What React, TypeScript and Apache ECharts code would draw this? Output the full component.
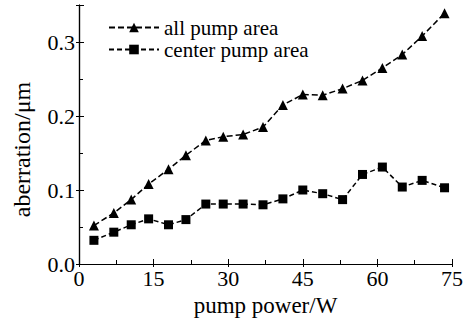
import React, { useEffect, useRef } from "react";
import * as echarts from "echarts";

const power = [3, 7, 10.5, 14, 18, 21.5, 25.5, 29, 33, 37, 41, 45, 49, 53, 57, 61, 65, 69, 73.5];
const allPump = [0.052, 0.069, 0.087, 0.108, 0.128, 0.147, 0.167, 0.172, 0.175, 0.185, 0.215, 0.229, 0.228, 0.237, 0.248, 0.265, 0.283, 0.308, 0.339];
const centerPump = [0.032, 0.043, 0.053, 0.061, 0.053, 0.06, 0.081, 0.081, 0.081, 0.08, 0.088, 0.1, 0.095, 0.087, 0.121, 0.131, 0.104, 0.113, 0.103];
const seriesNames = ["all pump area", "center pump area"];

const FONT = "Liberation Serif";

export default function App() {
  const ref = useRef<HTMLDivElement>(null);
  useEffect(() => {
    if (!ref.current) return;
    const chart = echarts.init(ref.current, undefined, { renderer: "svg" });
    const tickCommon = {
      axisLine: { show: true, lineStyle: { color: "#000", width: 1.2 } },
      axisTick: { show: true, inside: true, length: 5, lineStyle: { color: "#000", width: 1 } },
      minorTick: { show: true, splitNumber: 2, length: 4, lineStyle: { color: "#000", width: 1 } },
      splitLine: { show: false },
      minorSplitLine: { show: false },
    };
    chart.setOption({
      animation: false,
      backgroundColor: "#fff",
      textStyle: { fontFamily: FONT, color: "#000" },
      grid: {
        left: 79,
        right: 14,
        top: 5,
        bottom: 53,
      },
      legend: {
        orient: "vertical",
        left: 108,
        top: 17,
        padding: 0,
        itemWidth: 50,
        itemHeight: 12,
        itemGap: 1,
        data: seriesNames,
        textStyle: { fontFamily: FONT, fontSize: 21, color: "#000", lineHeight: 21 },
      },
      xAxis: [
        {
          type: "value",
          min: 0,
          max: 75,
          interval: 15,
          name: "pump power/W",
          nameLocation: "middle",
          nameGap: 30,
          nameTextStyle: { fontFamily: FONT, fontSize: 23, color: "#000" },
          axisLabel: { fontFamily: FONT, fontSize: 22, color: "#000", margin: 3 },
          ...tickCommon,
        },
        {
          type: "value",
          position: "top",
          min: 0,
          max: 75,
          interval: 15,
          axisLabel: { show: false },
          ...tickCommon,
          axisTick: { show: true, inside: true, length: 3, lineStyle: { color: "#000", width: 1 } },
          minorTick: { show: false },
        },
      ],
      yAxis: [
        {
          type: "value",
          min: 0,
          max: 0.35,
          interval: 0.1,
          name: "aberration/μm",
          nameLocation: "middle",
          nameGap: 45,
          nameTextStyle: { fontFamily: FONT, fontSize: 24, color: "#000", padding: [0, 30, 0, 0] },
          axisLabel: {
            fontFamily: FONT,
            fontSize: 22,
            color: "#000",
            margin: 4,
            showMaxLabel: false,
            formatter: (v: number) => v.toFixed(1),
          },
          ...tickCommon,
        },
        {
          type: "value",
          position: "right",
          min: 0,
          max: 0.35,
          interval: 0.1,
          axisLabel: { show: false },
          ...tickCommon,
          axisTick: { show: true, inside: true, length: 3, lineStyle: { color: "#000", width: 1 } },
          minorTick: { show: false },
        },
      ],
      series: [
        {
          name: seriesNames[0],
          type: "line",
          data: power.map((p, i) => [p, allPump[i]]),
          symbol: "triangle",
          symbolSize: 10,
          itemStyle: { color: "#000" },
          lineStyle: { color: "#000", width: 1.5, type: [6, 3] },
        },
        {
          name: seriesNames[1],
          type: "line",
          data: power.map((p, i) => [p, centerPump[i]]),
          symbol: "rect",
          symbolSize: 9,
          itemStyle: { color: "#000" },
          lineStyle: { color: "#000", width: 1.5, type: [5, 3] },
        },
      ],
    });
    return () => chart.dispose();
  }, []);
  return (
    <div
      ref={ref}
      style={{ position: "fixed", left: 0, top: 0, width: 466, height: 322, background: "#fff" }}
    />
  );
}
